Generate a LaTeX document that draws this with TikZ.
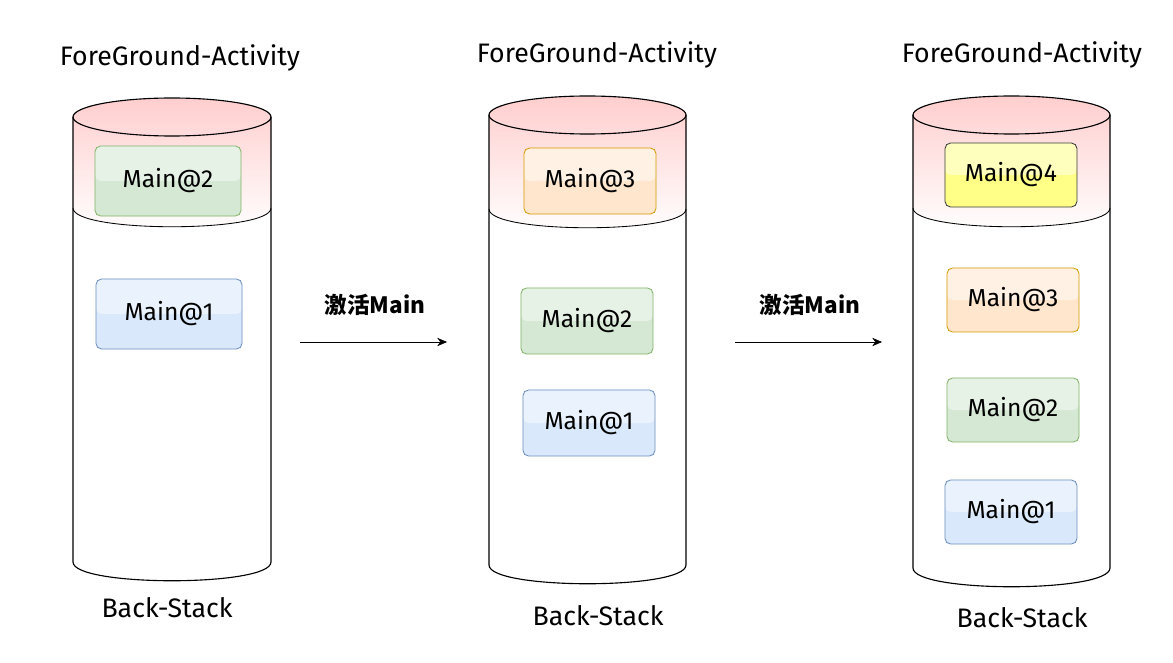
\documentclass[tikz,border=0pt]{standalone}
\usepackage{fontspec}
\setmainfont{Fira Sans}
\newfontfamily\cjk{Noto Sans CJK SC}
\usepackage{tikz}
\usetikzlibrary{arrows.meta}
\definecolor{pinktop}{HTML}{FFCCCC}
\definecolor{greenf}{HTML}{D5E8D4}\definecolor{greend}{HTML}{82B366}
\definecolor{bluef}{HTML}{DAE8FC}\definecolor{blued}{HTML}{6C8EBF}
\definecolor{orangef}{HTML}{FFE6CC}\definecolor{oranged}{HTML}{D79B00}
\definecolor{yellowf}{HTML}{FFFF88}\definecolor{yellowd}{HTML}{36393D}
\begin{document}
\begin{tikzpicture}[x=.025cm,y=-.025cm,font=\fontsize{19}{22}\selectfont,
box/.style 2 args={draw=#2,fill=#1,rounded corners=4pt,line width=.6pt,font=\fontsize{17.5}{20}\selectfont,
  path picture={\fill[white,opacity=.45](path picture bounding box.north west)rectangle(path picture bounding box.east);}},
bigbox/.style={minimum width=3.65cm,minimum height=1.75cm},
midbox/.style={minimum width=3.3cm,minimum height=1.65cm},
smallbox/.style={minimum width=3.3cm,minimum height=1.6cm},
act/.style={font=\cjk\bfseries\fontsize{16}{20}\selectfont}]
\fill[white](0,0)rectangle(1173,663);
\foreach \l/\r/\t/\s/\b in {73/271/117/208/562,489/686/115/209/565,913/1110/115/208/568}{
\shade[top color=pinktop,bottom color=white](\l,\t)--(\l,\s)..controls(\l,\s+25)and(\r,\s+25)..(\r,\s)--(\r,\t)..controls(\r,\t-25)and(\l,\t-25)..cycle;
\draw[line width=.8pt](\l,\t)--(\l,\b)..controls(\l,\b+25)and(\r,\b+25)..(\r,\b)--(\r,\t);
\draw[line width=.8pt]({(\l+\r)/2},\t)ellipse[x radius={(\r-\l)/2},y radius=19];
\draw[line width=.6pt](\l,\s)..controls(\l,\s+25)and(\r,\s+25)..(\r,\s);}
\node(fg1)at(180,58){ForeGround-Activity};\node(fg2)at(597,55){ForeGround-Activity};\node(fg3)at(1022,55){ForeGround-Activity};
\node(bs1)at(167,608){Back-Stack};\node(bs2)at(598,616){Back-Stack};\node(bs3)at(1022,618){Back-Stack};
\node[box={greenf}{greend},bigbox](a2)at(168,181){Main@2};\node[box={bluef}{blued},bigbox](a1)at(169,314){Main@1};
\node[box={orangef}{oranged},midbox](b3)at(590,181){Main@3};\node[box={greenf}{greend},midbox](b2)at(587,321){Main@2};\node[box={bluef}{blued},midbox](b1)at(589,423){Main@1};
\node[box={yellowf}{yellowd},smallbox](c4)at(1011,175){Main@4};\node[box={orangef}{oranged},smallbox](c3)at(1013,300){Main@3};
\node[box={greenf}{greend},smallbox](c2)at(1013,410){Main@2};\node[box={bluef}{blued},smallbox](c1)at(1011,512){Main@1};
\coordinate(s1)at(300,342);\coordinate(e1)at(447,342);\coordinate(s2)at(735,342);\coordinate(e2)at(882,342);
\draw[-{Stealth[length=7pt,width=6pt]}](s1)--(e1);\draw[-{Stealth[length=7pt,width=6pt]}](s2)--(e2);
\node[act](t1)at(375,305){激活Main};\node[act](t2)at(810,305){激活Main};
\end{tikzpicture}
\end{document}
